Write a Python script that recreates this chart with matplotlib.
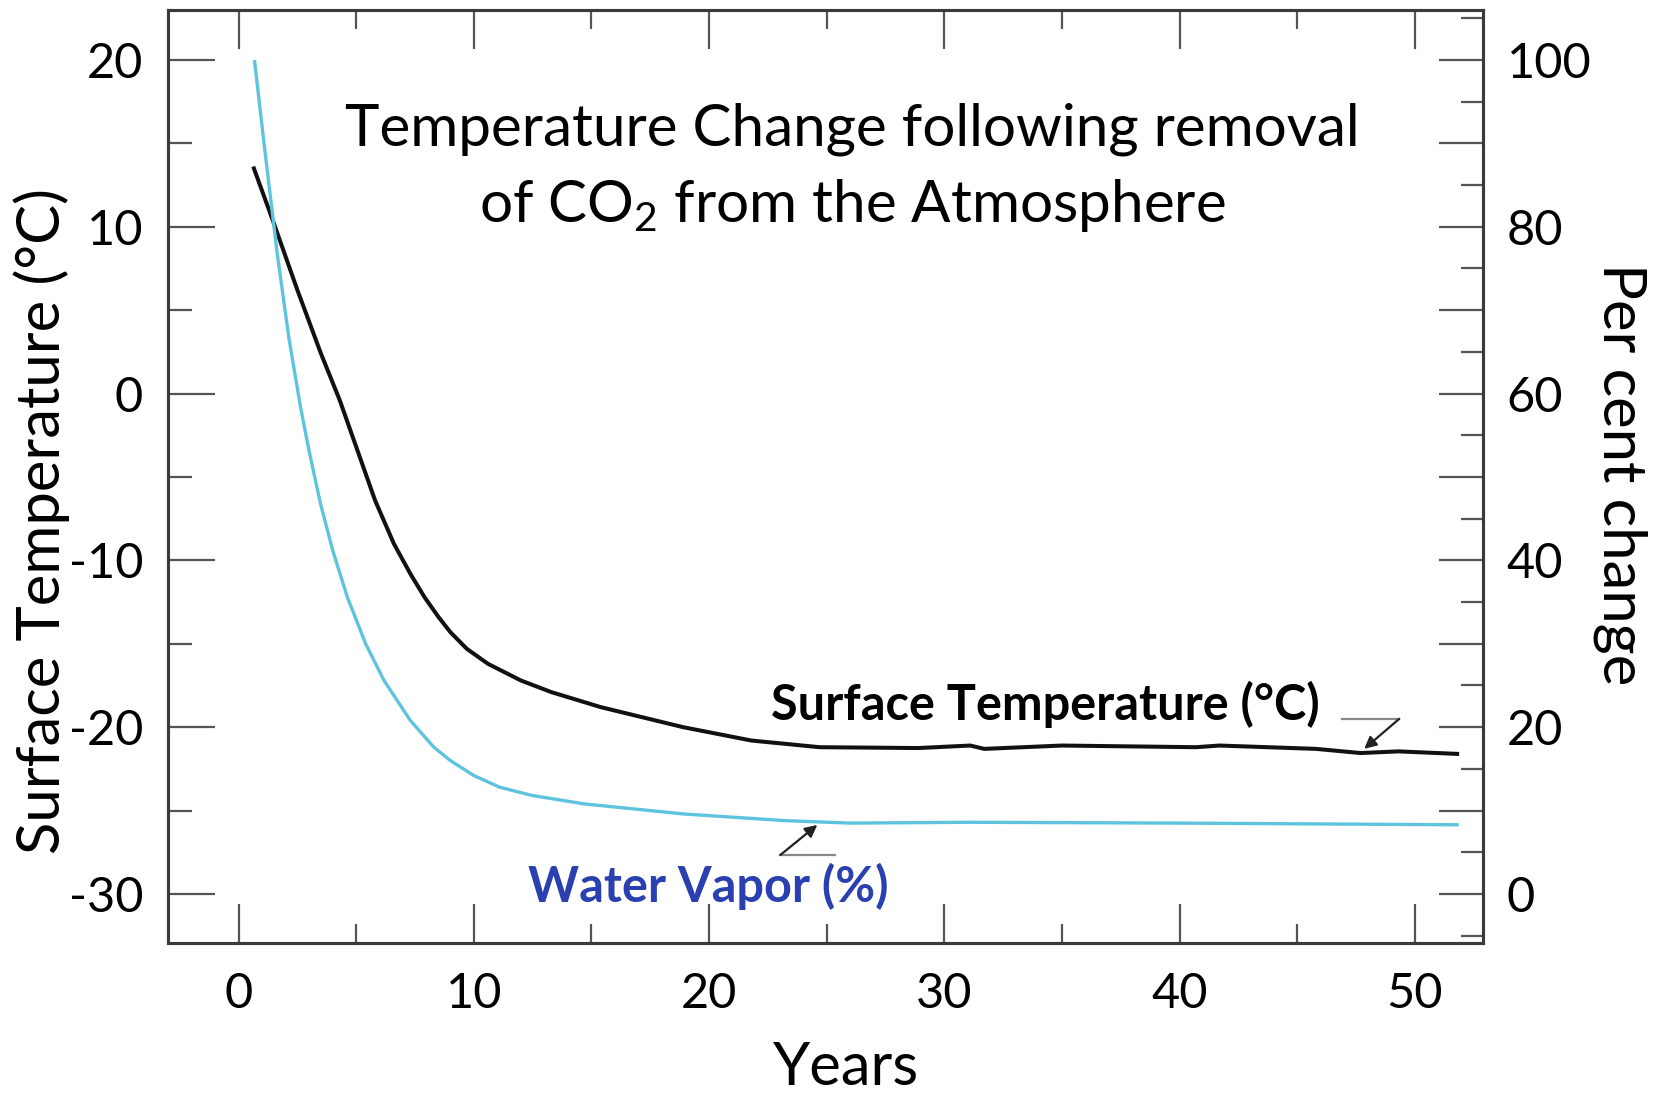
import matplotlib
matplotlib.use('Agg')
import matplotlib.pyplot as plt
from matplotlib.ticker import MultipleLocator, FuncFormatter

plt.rcParams['font.family'] = ['Lato', 'DejaVu Sans']
plt.rcParams['axes.unicode_minus'] = False
plt.rcParams['mathtext.fontset'] = 'custom'
plt.rcParams['mathtext.rm'] = 'Lato'
plt.rcParams['mathtext.default'] = 'rm'

# Surface temperature (deg C) after CO2 is removed
temp_years = [0.65, 1.5, 2.5, 3.5, 4.3, 5.1, 5.8, 6.6, 7.3, 7.9, 8.5, 9.0,
              9.7, 10.6, 12.0, 13.3, 15.4, 18.9, 21.8, 24.7, 28.9, 31.1,
              31.7, 35.0, 40.7, 41.7, 45.8, 47.7, 49.3, 51.8]
temp_values = [13.5, 10.2, 6.2, 2.4, -0.4, -3.6, -6.4, -9.0, -10.8, -12.2,
               -13.4, -14.3, -15.3, -16.2, -17.2, -17.9, -18.8, -20.0, -20.8,
               -21.2, -21.25, -21.1, -21.3, -21.1, -21.2, -21.1, -21.3,
               -21.55, -21.45, -21.6]

# Water vapor (per cent of initial amount)
vapor_years = [0.68, 1.08, 1.64, 2.14, 2.63, 2.99, 3.48, 4.0, 4.62, 5.4,
               6.18, 7.3, 8.3, 9.0, 10.0, 11.1, 12.5, 14.7, 18.9, 23.2, 26.0,
               31.1, 40.0, 51.8]
vapor_percent = [99.8, 90.0, 76.8, 66.6, 58.4, 53.2, 46.8, 41.2, 35.6, 30.0,
                 25.6, 20.8, 17.6, 16.0, 14.2, 12.8, 11.8, 10.8, 9.6, 8.8,
                 8.5, 8.6, 8.5, 8.3]

fig = plt.figure(figsize=(16.59, 10.94), dpi=100)
ax = fig.add_axes([0.1013, 0.138, 0.7926, 0.8529])
ax2 = ax.twinx()

ax.plot(temp_years, temp_values, color='#111111', lw=2.9)
ax2.plot(vapor_years, vapor_percent, color='#5ec4de', lw=2.4)

ax.set_xlim(-3.0, 52.9)
ax.set_ylim(-32.94, 23.0)
ax2.set_ylim(-5.88, 106.0)

ax.xaxis.set_major_locator(MultipleLocator(10))
ax.xaxis.set_minor_locator(MultipleLocator(5))
ax.yaxis.set_major_locator(MultipleLocator(10))
ax.yaxis.set_minor_locator(MultipleLocator(5))
ax2.yaxis.set_major_locator(MultipleLocator(10))
ax2.yaxis.set_minor_locator(MultipleLocator(5))
ax2.yaxis.set_major_formatter(FuncFormatter(lambda v, p: '%d' % v if round(v) % 20 == 0 else ''))

tick_col = '#555555'
ax.tick_params(axis='x', which='both', direction='in', top=True, bottom=True,
               color=tick_col, width=1.6, labelsize=35, pad=21)
ax.tick_params(axis='x', which='major', length=28)
ax.tick_params(axis='x', which='minor', length=13.5)
ax.tick_params(axis='y', which='both', direction='in', left=True, right=False,
               color=tick_col, width=1.6, labelsize=35, pad=18)
ax.tick_params(axis='y', which='major', length=34)
ax.tick_params(axis='y', which='minor', length=17)
ax2.tick_params(axis='y', which='both', direction='in', color=tick_col,
                width=1.6, labelsize=35, pad=17)
ax2.tick_params(axis='y', which='major', length=32)
ax2.tick_params(axis='y', which='minor', length=16)

for a in (ax, ax2):
    for s in a.spines.values():
        s.set_color('#3a3a3a')
        s.set_linewidth(2.2)

ax.set_xlabel('Years', fontsize=43)
ax.xaxis.set_label_coords(0.5156, -0.105)
ax.set_ylabel('Surface Temperature (°C)', fontsize=43)
ax.yaxis.set_label_coords(-0.0745, 0.452)
ax2.set_ylabel('Per cent change', fontsize=43, rotation=270)
ax2.yaxis.set_label_coords(1.125, 0.503)

# title inside the plot area
ax.text(26.1, 14.9, 'Temperature Change following removal',
        ha='center', va='baseline', fontsize=42)
ax.text(26.1, 10.29, r'of CO$_2$ from the Atmosphere',
        ha='center', va='baseline', fontsize=42)

# curve labels with leader lines
ax.text(34.3, -19.57, 'Surface Temperature (°C)', ha='center', va='baseline',
        fontsize=35, fontweight='bold', color='black')
ax.plot([46.92, 49.34], [-19.5, -19.5], color='#888888', lw=1.6)
ax.annotate('', xy=(47.85, -21.3), xytext=(49.34, -19.5),
            arrowprops=dict(arrowstyle='-|>', color='#222222', lw=1.6,
                            mutation_scale=18, shrinkA=0, shrinkB=0))

ax.text(19.97, -30.46, 'Water Vapor (%)', ha='center', va='baseline',
        fontsize=35, fontweight='bold', color='#2a40b0')
ax.plot([23.03, 25.37], [-27.66, -27.66], color='#888888', lw=1.6)
ax.annotate('', xy=(24.6, -25.86), xytext=(23.03, -27.66),
            arrowprops=dict(arrowstyle='-|>', color='#222222', lw=1.6,
                            mutation_scale=18, shrinkA=0, shrinkB=0))

fig.savefig('out.png', dpi=100, facecolor='white')
